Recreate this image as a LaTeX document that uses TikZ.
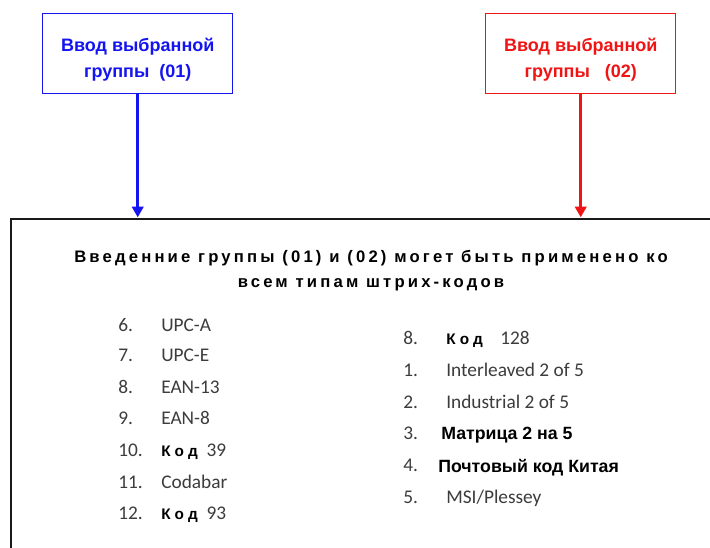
\documentclass[tikz,border=0pt]{standalone}
\usepackage{fontspec}
\setmainfont{Liberation Sans}
\newfontfamily\listfont{Carlito}
\newfontfamily\headfont[LetterSpace=19]{Liberation Sans}
\newfontfamily\kodfont[LetterSpace=27]{Liberation Sans}
\usetikzlibrary{arrows.meta,positioning}
\definecolor{selblue}{HTML}{1414F0}
\definecolor{selred}{HTML}{F01414}
\definecolor{listgray}{HTML}{3C3C3C}
\newcommand{\kod}{{\color{black}\kodfont\bfseries\fontsize{11.5}{13}\selectfont Код}}

\begin{document}
\begin{tikzpicture}[x=0.75pt,y=-0.75pt,>=Triangle]
\tikzset{
 selbox/.style={draw,line width=1.1pt,minimum width=142.5pt,minimum height=60pt,align=center,fill=white,
   text height=38pt,font=\bfseries\fontsize{13.5}{19.5}\selectfont},
 selarrow/.style={->,line width=2.4pt,shorten >=0.5pt,arrows={-Triangle[width=8.5pt,length=8pt]}},
 num/.style={anchor=base west,inner sep=0pt,font=\listfont\fontsize{14.5}{16}\selectfont,text=listgray},
 item/.style={num},
 bolditem/.style={anchor=base west,inner sep=0pt,font=\bfseries\fontsize{13.3}{15}\selectfont}
}
\useasboundingbox (0,0) rectangle (710,547);
\clip (0,0) rectangle (710,547);
\fill[white] (0,0) rectangle (710,547);

% the two input boxes
\node[selbox,draw=selblue,text=selblue,anchor=north west] (grp1) at (42,13) {Ввод выбранной\\группы\ \ (01)};
\node[selbox,draw=selred,text=selred,anchor=north west] (grp2) at (485,13) {Ввод выбранной\\группы\ \ \ (02)};

% the common box
\node[draw=black!90,line width=1.6pt,anchor=north west,minimum width=560pt,minimum height=260pt] (all) at (10,218) {};
\node[font=\headfont\bfseries\fontsize{12.5}{18.75}\selectfont,align=center] (hdr) at (371,271)
 {Введенние группы (01) и (02) могет быть применено ко\\всем типам штрих-кодов};

\draw[selarrow,draw=selblue] (grp1) -- (grp1 |- all.north);
\draw[selarrow,draw=selred] (grp2) -- (grp2 |- all.north);

% left column
\foreach \y/\n/\t [count=\k] in {331/6./{UPC-A},361/7./{UPC-E},393/8./{EAN-13},424/9./{EAN-8},
  456/10./{{\kod}\ \ 39},488/11./{Codabar},519/12./{{\kod}\ \ 93}}{
 \node[num] (lnum\k) at (118,\y) {\n};
 \node[item] (litem\k) at (161,\y) {\t};
}

% right column
\foreach \y/\n/\t [count=\k] in {344/8./{{\kod}\ \ \ \ 128},376/1./{Interleaved 2 of 5},408/2./{Industrial 2 of 5},503/5./{MSI/Plessey}}{
 \node[num] (rnum\k) at (403,\y) {\n};
 \node[item] (ritem\k) at (446,\y) {\t};
}
\node[num] (rnum5) at (403,439) {3.};
\node[bolditem] (ritem5) at (441,439) {Матрица 2 на 5};
\node[num] (rnum6) at (403,471) {4.};
\node[bolditem] (ritem6) at (438,472) {Почтовый код Китая};
\end{tikzpicture}
\end{document}
